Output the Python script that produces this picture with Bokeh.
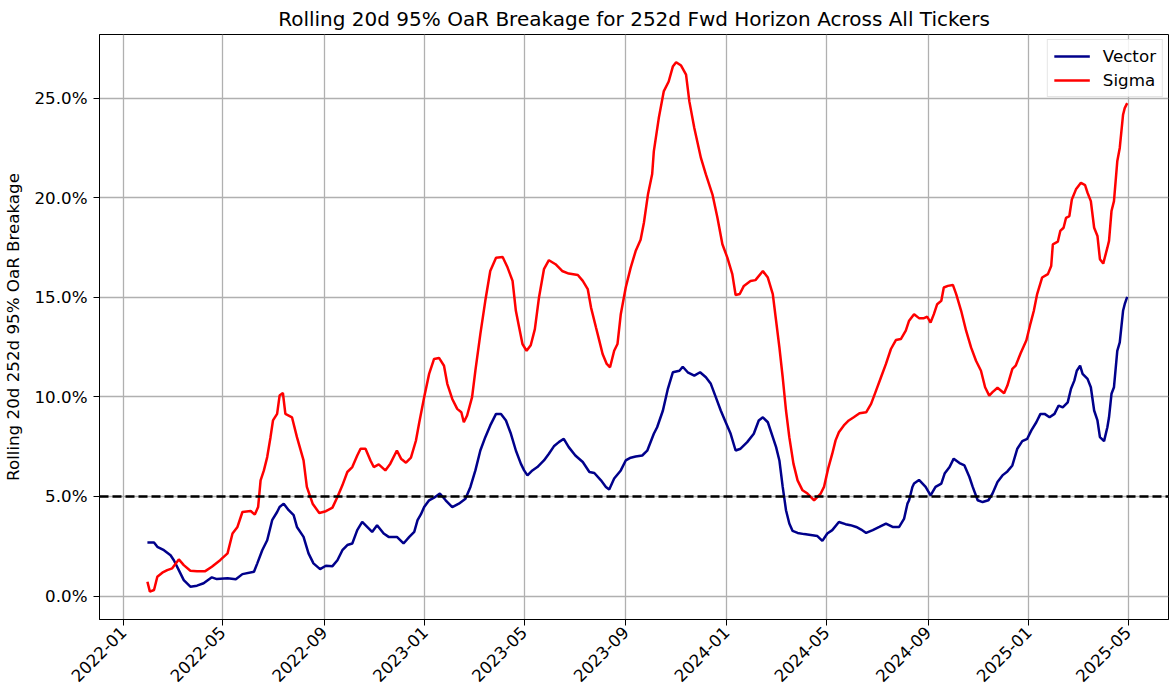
import pandas as pd
from math import pi
from bokeh.plotting import figure
from bokeh.models import (Range1d, FixedTicker, PrintfTickFormatter, Span,
                          Legend, LegendItem, DatetimeTickFormatter)
from bokeh.embed import file_html
from bokeh.resources import INLINE

# ---------------- data ----------------
vector_dates = [
    "2022-01-30", "2022-02-07", "2022-02-11", "2022-02-19", "2022-02-27", "2022-03-03", "2022-03-09",
    "2022-03-15", "2022-03-23", "2022-03-31", "2022-04-08", "2022-04-18", "2022-04-24", "2022-05-07",
    "2022-05-17", "2022-05-25", "2022-06-08", "2022-06-12", "2022-06-18", "2022-06-24", "2022-06-30",
    "2022-07-06", "2022-07-09", "2022-07-14", "2022-07-20", "2022-07-26", "2022-07-30", "2022-08-07",
    "2022-08-13", "2022-08-19", "2022-08-27", "2022-09-03", "2022-09-11", "2022-09-17", "2022-09-23",
    "2022-09-29", "2022-10-05", "2022-10-11", "2022-10-17", "2022-10-23", "2022-10-29", "2022-11-04",
    "2022-11-12", "2022-11-18", "2022-11-28", "2022-12-06", "2022-12-13", "2022-12-19", "2022-12-23",
    "2022-12-27", "2022-12-31", "2023-01-06", "2023-01-12", "2023-01-19", "2023-01-26", "2023-02-03",
    "2023-02-11", "2023-02-19", "2023-02-25", "2023-03-03", "2023-03-09", "2023-03-15", "2023-03-21",
    "2023-03-28", "2023-04-03", "2023-04-09", "2023-04-15", "2023-04-21", "2023-04-27", "2023-05-01",
    "2023-05-05", "2023-05-11", "2023-05-17", "2023-05-25", "2023-05-31", "2023-06-06", "2023-06-12",
    "2023-06-18", "2023-06-24", "2023-07-02", "2023-07-11", "2023-07-19", "2023-07-25", "2023-08-02",
    "2023-08-08", "2023-08-12", "2023-08-18", "2023-08-26", "2023-09-01", "2023-09-07", "2023-09-13",
    "2023-09-21", "2023-09-27", "2023-10-05", "2023-10-09", "2023-10-16", "2023-10-22", "2023-10-28",
    "2023-11-05", "2023-11-09", "2023-11-15", "2023-11-23", "2023-11-30", "2023-12-07", "2023-12-13",
    "2023-12-19", "2023-12-25", "2023-12-31", "2024-01-06", "2024-01-12", "2024-01-18", "2024-01-26",
    "2024-02-03", "2024-02-09", "2024-02-14", "2024-02-20", "2024-02-26", "2024-03-01", "2024-03-05",
    "2024-03-09", "2024-03-13", "2024-03-17", "2024-03-21", "2024-03-27", "2024-04-04", "2024-04-12",
    "2024-04-20", "2024-04-26", "2024-05-02", "2024-05-08", "2024-05-16", "2024-05-24", "2024-05-30",
    "2024-06-06", "2024-06-12", "2024-06-18", "2024-06-26", "2024-07-04", "2024-07-12", "2024-07-20",
    "2024-07-28", "2024-08-03", "2024-08-07", "2024-08-09", "2024-08-13", "2024-08-15", "2024-08-21",
    "2024-08-29", "2024-09-04", "2024-09-10", "2024-09-17", "2024-09-21", "2024-09-27", "2024-10-02",
    "2024-10-09", "2024-10-15", "2024-10-21", "2024-10-25", "2024-10-31", "2024-11-06", "2024-11-13",
    "2024-11-18", "2024-11-24", "2024-11-30", "2024-12-06", "2024-12-12", "2024-12-18", "2024-12-24",
    "2024-12-30", "2025-01-04", "2025-01-10", "2025-01-15", "2025-01-20", "2025-01-26", "2025-02-01",
    "2025-02-06", "2025-02-11", "2025-02-17", "2025-02-21", "2025-02-25", "2025-02-28", "2025-03-04",
    "2025-03-07", "2025-03-13", "2025-03-17", "2025-03-21", "2025-03-25", "2025-03-28", "2025-04-02",
    "2025-04-06", "2025-04-08", "2025-04-11", "2025-04-14", "2025-04-18", "2025-04-21", "2025-04-25",
    "2025-04-27", "2025-04-30",
]
vector_pct = [
    2.69, 2.69, 2.47, 2.30, 2.05, 1.80, 1.30,
    0.80, 0.47, 0.52, 0.64, 0.94, 0.85, 0.89,
    0.84, 1.10, 1.22, 1.64, 2.30, 2.80, 3.81,
    4.22, 4.47, 4.64, 4.31, 4.06, 3.47, 2.97,
    2.14, 1.64, 1.35, 1.52, 1.50, 1.80, 2.30,
    2.56, 2.64, 3.31, 3.72, 3.47, 3.22, 3.56,
    3.14, 2.97, 2.97, 2.64, 2.97, 3.22, 3.81,
    4.10, 4.47, 4.81, 4.94, 5.15, 4.81, 4.47,
    4.64, 4.89, 5.48, 6.31, 7.31, 7.98, 8.57,
    9.15, 9.15, 8.82, 8.15, 7.31, 6.65, 6.31,
    6.06, 6.31, 6.48, 6.81, 7.15, 7.52, 7.73,
    7.90, 7.48, 7.06, 6.73, 6.23, 6.18, 5.81,
    5.48, 5.35, 5.90, 6.31, 6.81, 6.95, 7.01,
    7.06, 7.30, 8.15, 8.48, 9.32, 10.41, 11.24,
    11.32, 11.52, 11.24, 11.07, 11.24, 10.99, 10.66,
    9.99, 9.32, 8.73, 8.15, 7.31, 7.40, 7.73,
    8.15, 8.82, 8.98, 8.73, 7.98, 7.48, 6.81,
    5.48, 4.31, 3.64, 3.27, 3.17, 3.11, 3.06,
    3.01, 2.77, 3.14, 3.31, 3.72, 3.61, 3.56,
    3.47, 3.34, 3.17, 3.31, 3.47, 3.64, 3.47,
    3.47, 3.89, 4.64, 4.81, 5.48, 5.65, 5.83,
    5.48, 5.06, 5.48, 5.65, 6.15, 6.48, 6.90,
    6.68, 6.56, 5.98, 5.48, 4.81, 4.72, 4.81,
    5.15, 5.73, 6.06, 6.26, 6.56, 7.40, 7.78,
    7.90, 8.32, 8.73, 9.15, 9.15, 8.98, 9.15,
    9.57, 9.48, 9.73, 10.41, 10.82, 11.32, 11.57,
    11.16, 10.91, 10.49, 9.32, 8.82, 7.98, 7.78,
    8.48, 8.98, 10.16, 10.49, 12.32, 12.74, 14.33,
    14.66, 15.03,
]

sigma_dates = [
    "2022-01-30", "2022-02-02", "2022-02-07", "2022-02-11", "2022-02-17", "2022-02-23", "2022-03-01",
    "2022-03-09", "2022-03-15", "2022-03-23", "2022-03-31", "2022-04-10", "2022-04-18", "2022-04-28",
    "2022-05-07", "2022-05-13", "2022-05-19", "2022-05-25", "2022-06-04", "2022-06-09", "2022-06-13",
    "2022-06-16", "2022-06-20", "2022-06-24", "2022-06-28", "2022-07-01", "2022-07-06", "2022-07-09",
    "2022-07-13", "2022-07-16", "2022-07-24", "2022-07-30", "2022-08-07", "2022-08-11", "2022-08-18",
    "2022-08-26", "2022-09-03", "2022-09-11", "2022-09-17", "2022-09-23", "2022-09-29", "2022-10-05",
    "2022-10-11", "2022-10-15", "2022-10-21", "2022-10-27", "2022-10-31", "2022-11-06", "2022-11-14",
    "2022-11-20", "2022-11-28", "2022-12-03", "2022-12-09", "2022-12-15", "2022-12-21", "2022-12-25",
    "2022-12-31", "2023-01-06", "2023-01-12", "2023-01-18", "2023-01-24", "2023-01-28", "2023-02-03",
    "2023-02-09", "2023-02-14", "2023-02-17", "2023-02-21", "2023-02-27", "2023-03-03", "2023-03-09",
    "2023-03-15", "2023-03-21", "2023-03-28", "2023-04-05", "2023-04-11", "2023-04-17", "2023-04-21",
    "2023-04-25", "2023-04-29", "2023-05-04", "2023-05-09", "2023-05-14", "2023-05-19", "2023-05-25",
    "2023-05-31", "2023-06-08", "2023-06-16", "2023-06-24", "2023-07-05", "2023-07-11", "2023-07-17",
    "2023-07-21", "2023-07-27", "2023-07-31", "2023-08-04", "2023-08-09", "2023-08-13", "2023-08-18",
    "2023-08-22", "2023-08-26", "2023-09-01", "2023-09-07", "2023-09-13", "2023-09-19", "2023-09-23",
    "2023-09-28", "2023-10-03", "2023-10-05", "2023-10-11", "2023-10-17", "2023-10-23", "2023-10-28",
    "2023-11-01", "2023-11-07", "2023-11-13", "2023-11-17", "2023-11-23", "2023-12-01", "2023-12-07",
    "2023-12-15", "2023-12-21", "2023-12-27", "2024-01-02", "2024-01-08", "2024-01-12", "2024-01-17",
    "2024-01-22", "2024-01-30", "2024-02-05", "2024-02-14", "2024-02-20", "2024-02-26", "2024-03-01",
    "2024-03-05", "2024-03-09", "2024-03-13", "2024-03-17", "2024-03-22", "2024-03-27", "2024-04-02",
    "2024-04-08", "2024-04-16", "2024-04-24", "2024-04-28", "2024-05-03", "2024-05-08", "2024-05-12",
    "2024-05-16", "2024-05-22", "2024-05-28", "2024-06-03", "2024-06-10", "2024-06-18", "2024-06-24",
    "2024-06-30", "2024-07-06", "2024-07-12", "2024-07-18", "2024-07-24", "2024-07-30", "2024-08-05",
    "2024-08-09", "2024-08-15", "2024-08-21", "2024-08-27", "2024-08-31", "2024-09-04", "2024-09-08",
    "2024-09-12", "2024-09-17", "2024-09-20", "2024-09-25", "2024-10-01", "2024-10-05", "2024-10-11",
    "2024-10-17", "2024-10-23", "2024-10-29", "2024-11-04", "2024-11-09", "2024-11-14", "2024-11-18",
    "2024-11-24", "2024-12-02", "2024-12-06", "2024-12-12", "2024-12-16", "2024-12-22", "2024-12-29",
    "2025-01-03", "2025-01-07", "2025-01-11", "2025-01-17", "2025-01-24", "2025-01-28", "2025-01-30",
    "2025-02-05", "2025-02-08", "2025-02-12", "2025-02-15", "2025-02-19", "2025-02-22", "2025-02-27",
    "2025-03-05", "2025-03-10", "2025-03-13", "2025-03-17", "2025-03-21", "2025-03-25", "2025-03-28",
    "2025-04-01", "2025-04-06", "2025-04-08", "2025-04-11", "2025-04-14", "2025-04-18", "2025-04-21",
    "2025-04-25", "2025-04-27", "2025-04-30",
]
sigma_pct = [
    0.72, 0.22, 0.30, 0.97, 1.17, 1.30, 1.39,
    1.84, 1.55, 1.27, 1.24, 1.25, 1.47, 1.80,
    2.14, 3.14, 3.47, 4.22, 4.27, 4.09, 4.47,
    5.81, 6.31, 6.98, 7.98, 8.82, 9.15, 10.07,
    10.20, 9.15, 8.98, 7.98, 6.81, 5.48, 4.64,
    4.17, 4.26, 4.44, 4.97, 5.56, 6.23, 6.48,
    7.06, 7.40, 7.40, 6.81, 6.48, 6.61, 6.31,
    6.65, 7.31, 6.90, 6.70, 6.95, 7.80, 8.70,
    9.99, 11.16, 11.91, 11.96, 11.57, 10.66, 9.90,
    9.40, 9.23, 8.73, 9.07, 9.99, 11.32, 13.16,
    14.83, 16.33, 17.00, 17.03, 16.50, 15.83, 14.33,
    13.49, 12.66, 12.32, 12.60, 13.41, 15.00, 16.42,
    16.87, 16.67, 16.33, 16.20, 16.13, 15.83, 15.42,
    14.49, 13.49, 12.83, 12.16, 11.66, 11.49, 12.32,
    12.66, 14.16, 15.50, 16.50, 17.33, 17.90, 18.75,
    20.20, 21.20, 22.34, 24.01, 25.35, 25.85, 26.60,
    26.82, 26.65, 26.19, 24.85, 23.51, 22.01, 21.18,
    20.17, 19.00, 17.67, 17.00, 16.17, 15.12, 15.17,
    15.58, 15.83, 15.87, 16.33, 16.00, 15.17, 13.83,
    12.49, 10.99, 9.32, 7.98, 6.65, 5.81, 5.31,
    5.15, 4.81, 5.15, 5.48, 6.40, 7.15, 7.82,
    8.23, 8.57, 8.82, 8.98, 9.18, 9.23, 9.65,
    10.32, 10.99, 11.66, 12.41, 12.86, 12.91, 13.33,
    13.83, 14.16, 13.96, 13.96, 14.03, 13.74, 14.16,
    14.66, 14.83, 15.50, 15.58, 15.63, 15.17, 14.33,
    13.33, 12.49, 11.82, 11.32, 10.49, 10.07, 10.24,
    10.46, 10.19, 10.57, 11.41, 11.57, 12.20, 12.85,
    13.70, 14.33, 15.17, 16.00, 16.17, 16.58, 17.67,
    17.80, 18.34, 18.50, 19.00, 19.09, 19.92, 20.43,
    20.76, 20.64, 20.26, 19.84, 18.50, 18.09, 16.92,
    16.70, 17.50, 17.84, 19.34, 19.84, 21.84, 22.51,
    24.18, 24.51, 24.76,
]

threshold_pct = 5.0
tick_months = ["2022-01", "2022-05", "2022-09", "2023-01", "2023-05", "2023-09",
               "2024-01", "2024-05", "2024-09", "2025-01", "2025-05"]
y_ticks = [0, 5, 10, 15, 20, 25]

title_text = "Rolling 20d 95% OaR Breakage for 252d Fwd Horizon Across All Tickers"
y_label = "Rolling 20d 252d 95% OaR Breakage"

# ---------------- figure ----------------
FONT = "DejaVu Sans"
vx = pd.to_datetime(vector_dates)
sx = pd.to_datetime(sigma_dates)

x_start = pd.Timestamp("2021-12-03")
x_end = pd.Timestamp("2025-06-19")

p = figure(width=1169, height=694, output_backend="svg", toolbar_location=None,
           x_axis_type="datetime",
           x_range=Range1d(x_start, x_end), y_range=Range1d(-1.18, 28.21),
           min_border_left=99, min_border_right=1, min_border_top=33, min_border_bottom=75)

p.title.text = title_text
p.title.align = "center"
p.title.text_font = FONT
p.title.text_font_size = "20px"
p.title.text_font_style = "normal"
p.title.text_color = "black"
p.title.standoff = 8

p.outline_line_color = "black"
p.outline_line_width = 1
p.outline_line_alpha = 1.0

tick_ms = [pd.Timestamp(m + "-01").value / 1e6 for m in tick_months]
p.xaxis.ticker = FixedTicker(ticks=tick_ms)
p.xaxis.formatter = DatetimeTickFormatter(days="%Y-%m", months="%Y-%m", years="%Y-%m")
p.xaxis.major_label_orientation = pi / 4
p.yaxis.ticker = FixedTicker(ticks=y_ticks)
p.yaxis.formatter = PrintfTickFormatter(format="%.1f%%")
p.yaxis.axis_label = y_label

for ax in (p.xaxis, p.yaxis):
    ax.major_label_text_font = FONT
    ax.major_label_text_font_size = "16.7px"
    ax.major_label_text_color = "black"
    ax.axis_label_text_font = FONT
    ax.axis_label_text_font_size = "16.7px"
    ax.axis_label_text_font_style = "normal"
    ax.axis_label_text_color = "black"
    ax.axis_line_color = "black"
    ax.major_tick_line_color = "black"
    ax.major_tick_out = 6
    ax.major_tick_in = 0
    ax.minor_tick_line_color = None
    ax.major_label_standoff = 6
p.yaxis.axis_label_standoff = 8
p.xaxis.major_label_standoff = 4

p.xgrid.ticker = FixedTicker(ticks=tick_ms)
p.ygrid.ticker = FixedTicker(ticks=y_ticks)
for g in (p.xgrid, p.ygrid):
    g.grid_line_color = "#b0b0b0"
    g.grid_line_width = 1.3

span = Span(location=threshold_pct, dimension="width", line_color="black",
            line_dash="9 4", line_width=2.5)
p.add_layout(span)

r_vec = p.line(vx, vector_pct, line_color="#00008b", line_width=2.5)
r_sig = p.line(sx, sigma_pct, line_color="#ff0000", line_width=2.5)

legend = Legend(items=[LegendItem(label="Vector", renderers=[r_vec]),
                       LegendItem(label="Sigma", renderers=[r_sig])],
                location="top_right")
legend.label_text_font = FONT
legend.label_text_font_size = "16.7px"
legend.label_text_color = "black"
legend.glyph_width = 36
legend.glyph_height = 18
legend.label_standoff = 13
legend.spacing = 4
legend.padding = 6
legend.margin = 5
legend.border_line_color = "#cccccc"
legend.border_line_width = 1
legend.background_fill_alpha = 0.85
p.add_layout(legend)

open("out.html", "w").write(file_html(p, INLINE))
